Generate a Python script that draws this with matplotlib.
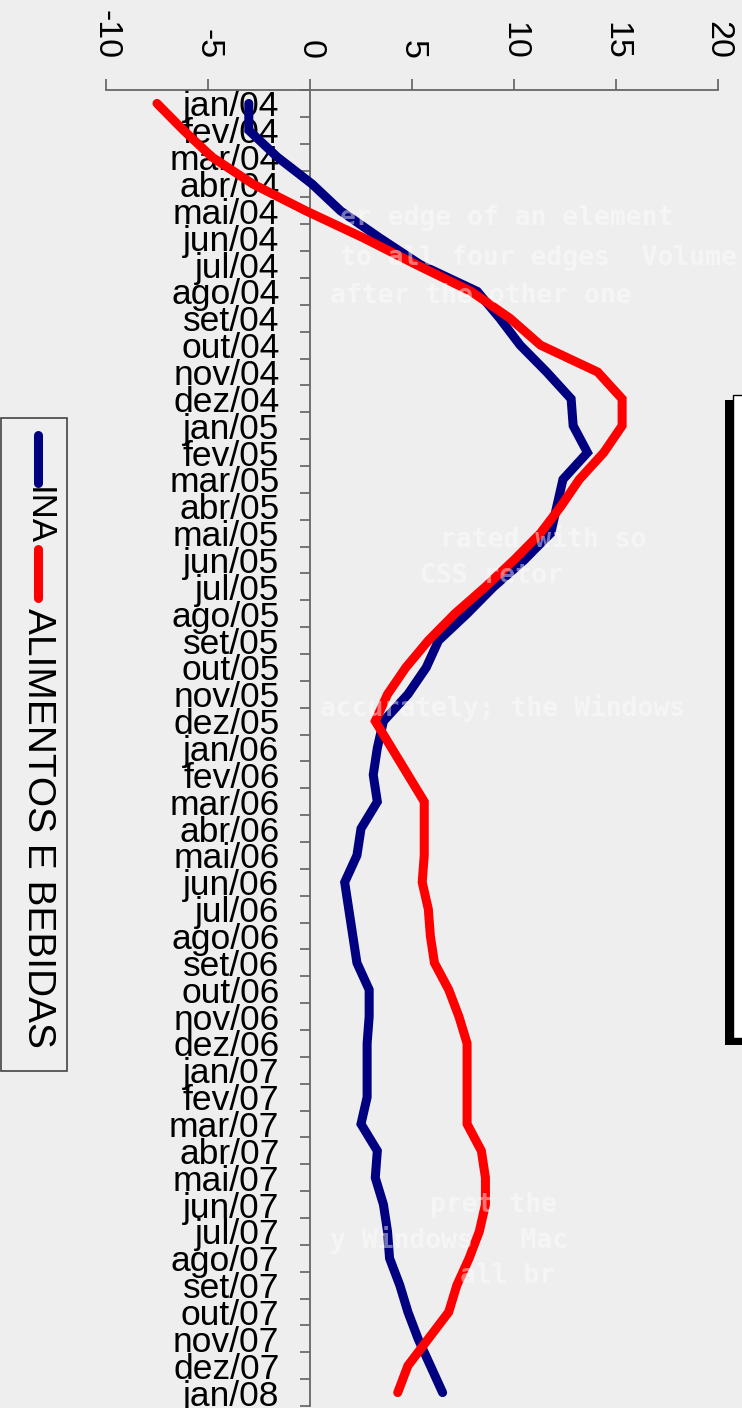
import matplotlib
matplotlib.use('Agg')
import matplotlib.pyplot as plt
from matplotlib.patches import Rectangle
from matplotlib.lines import Line2D

plt.rcParams['font.family'] = ['Liberation Sans', 'DejaVu Sans']

labels = ['jan/04', 'fev/04', 'mar/04', 'abr/04', 'mai/04', 'jun/04',
          'jul/04', 'ago/04', 'set/04', 'out/04', 'nov/04', 'dez/04',
          'jan/05', 'fev/05', 'mar/05', 'abr/05', 'mai/05', 'jun/05',
          'jul/05', 'ago/05', 'set/05', 'out/05', 'nov/05', 'dez/05',
          'jan/06', 'fev/06', 'mar/06', 'abr/06', 'mai/06', 'jun/06',
          'jul/06', 'ago/06', 'set/06', 'out/06', 'nov/06', 'dez/06',
          'jan/07', 'fev/07', 'mar/07', 'abr/07', 'mai/07', 'jun/07',
          'jul/07', 'ago/07', 'set/07', 'out/07', 'nov/07', 'dez/07',
          'jan/08']

ina = [-3.0, -3.0, -1.6, 0.1, 1.5, 3.4, 5.4, 8.2, 9.3, 10.3, 11.6, 12.8,
       12.9, 13.6, 12.4, 12.1, 11.8, 10.5, 9.0, 7.7, 6.3, 5.7, 4.8, 3.6,
       3.3, 3.1, 3.3, 2.5, 2.3, 1.7, 1.9, 2.1, 2.3, 2.9, 2.9, 2.8,
       2.8, 2.8, 2.5, 3.3, 3.2, 3.6, 3.8, 3.9, 4.4, 4.8, 5.3, 5.9, 6.5]

alimentos = [-7.5, -6.2, -4.8, -2.8, -0.2, 2.6, 5.2, 7.9, 9.8, 11.3, 14.1, 15.3,
             15.3, 14.4, 13.2, 12.3, 11.3, 10.0, 8.6, 7.1, 5.8, 4.7, 3.8, 3.2,
             4.0, 4.8, 5.6, 5.6, 5.6, 5.5, 5.8, 5.9, 6.1, 6.8, 7.3, 7.7,
             7.7, 7.7, 7.7, 8.4, 8.6, 8.6, 8.3, 7.8, 7.2, 6.8, 5.8, 4.8, 4.3]

series_names = ['INA', 'ALIMENTOS E BEBIDAS']
series_colors = ['#000080', '#ff0000']
value_ticks = [-10, -5, 0, 5, 10, 15, 20]

W, H = 742, 1408
fig = plt.figure(figsize=(W / 100, H / 100), dpi=100)
fig.patch.set_facecolor('#eeeeee')


def fx(x):
    return x / W


def fy(y):
    return 1 - y / H


# faint background texture (white text), kept clear of the labels
bg_lines = [(340, 218, 'er edge of an element'),
            (340, 258, 'to all four edges  Volume'),
            (330, 296, 'after the other one'),
            (440, 540, 'rated with so'),
            (420, 576, 'CSS retor'),
            (320, 708, 'accurately; the Windows'),
            (430, 1205, 'pret the'),
            (330, 1240, 'y Windows   Mac'),
            (460, 1276, 'all br')]
for x, y, s in bg_lines:
    fig.text(fx(x), fy(y), s, color='white', alpha=0.45, fontsize=19,
             family='DejaVu Sans Mono', fontweight='bold', va='center',
             ha='left', zorder=0)

ax = fig.add_axes([fx(106), fy(1406), fx(718) - fx(106), (1406 - 90) / H])
ax.set_facecolor('none')

n = len(labels)
pos = [i + 0.5 for i in range(n)]
for vals, name, col in zip([ina, alimentos], series_names, series_colors):
    ax.plot(vals, pos, color=col, lw=6.5, solid_capstyle='round',
            solid_joinstyle='miter', label=name, zorder=3)

ax.set_xlim(-10, 20)
ax.set_ylim(n, 0)

for s in ['right', 'bottom']:
    ax.spines[s].set_visible(False)
ax.spines['top'].set_color('#666666')
ax.spines['top'].set_linewidth(1.3)
ax.spines['left'].set_position(('data', 0))
ax.spines['left'].set_color('#666666')
ax.spines['left'].set_linewidth(1.3)

ax.xaxis.tick_top()
ax.set_xticks(value_ticks)
ax.set_xticklabels([str(v) for v in value_ticks], rotation=-90)
ax.tick_params(axis='x', direction='out', length=8, width=1.1,
               color='#555555', labelsize=24.5, pad=14)

ax.set_yticks(range(n + 1))
ax.set_yticklabels([])
ax.tick_params(axis='y', which='major', direction='out', length=7.5,
               width=1.1, color='#555555')
ax.set_yticks(pos, minor=True)
ax.set_yticklabels(labels, minor=True)
ax.tick_params(axis='y', which='minor', length=0, labelsize=25.5, pad=22)

# legend box
fig.patches.append(Rectangle((fx(1), fy(1071)), fx(67) - fx(1),
                             (1071 - 418) / H, transform=fig.transFigure,
                             facecolor='#efefef', edgecolor='#444444',
                             lw=1.2, zorder=2))
fig.lines.append(Line2D([fx(38), fx(38)], [fy(435), fy(483)],
                        transform=fig.transFigure, color=series_colors[0],
                        lw=6.5, solid_capstyle='round', zorder=3))
fig.text(fx(38), fy(516), series_names[0], rotation=-90, ha='center',
         va='center', fontsize=25, zorder=3)
fig.lines.append(Line2D([fx(38), fx(38)], [fy(549), fy(598)],
                        transform=fig.transFigure, color=series_colors[1],
                        lw=6.5, solid_capstyle='round', zorder=3))
fig.text(fx(38), fy(828), series_names[1], rotation=-90, ha='center',
         va='center', fontsize=28, zorder=3)

# title box (cut off at the right edge)
fig.patches.append(Rectangle((fx(725), fy(1045)), fx(742) - fx(725),
                             (1045 - 400) / H, transform=fig.transFigure,
                             facecolor='black', edgecolor='none', zorder=2))
fig.patches.append(Rectangle((fx(733), fy(1038)), fx(745) - fx(733),
                             (1038 - 395) / H, transform=fig.transFigure,
                             facecolor='white', edgecolor='black',
                             lw=1.0, zorder=2))

fig.savefig('out.png', dpi=100, facecolor=fig.get_facecolor())
